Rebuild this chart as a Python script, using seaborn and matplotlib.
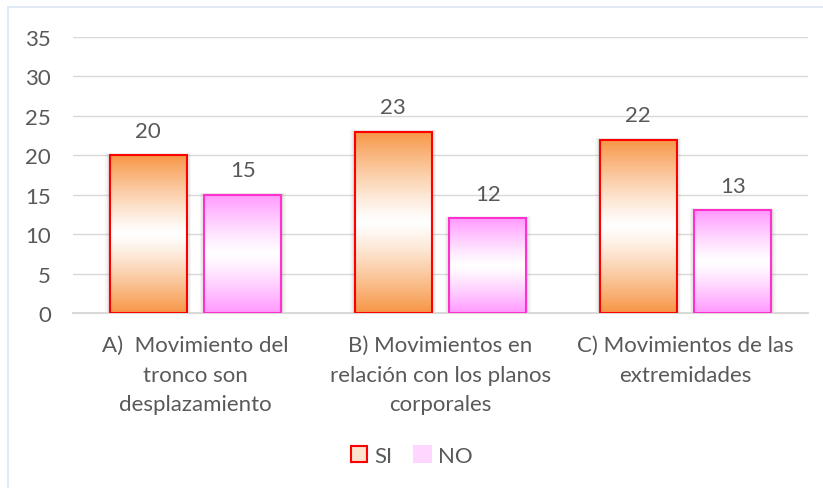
import numpy as np
import pandas as pd
import matplotlib
matplotlib.use("Agg")
import matplotlib.pyplot as plt
from matplotlib.colors import LinearSegmentedColormap
from matplotlib.patches import Rectangle, Patch
from matplotlib.lines import Line2D
import seaborn as sns

# ---- data ----
categorias = [
    "A)  Movimiento del\ntronco son\ndesplazamiento",
    "B) Movimientos en\nrelación con los planos\ncorporales",
    "C) Movimientos de las\nextremidades",
]
series = ["SI", "NO"]
valores_si = [20, 23, 22]
valores_no = [15, 12, 13]
yticks = [0, 5, 10, 15, 20, 25, 30, 35]

df = pd.DataFrame({
    "categoria": categorias * 2,
    "serie": ["SI"] * 3 + ["NO"] * 3,
    "valor": valores_si + valores_no,
})

# ---- style ----
sns.set_theme(style="white")
plt.rcParams["font.family"] = ["Lato", "DejaVu Sans"]
TXT = "#595959"
GRID = "#D9D9D9"
FS = 16
edge_col = {"SI": "#FF0000", "NO": "#FF33CC"}
grad_col = {"SI": "#F79646", "NO": "#FF99FF"}

fig = plt.figure(figsize=(8.23, 4.89), dpi=100)
ax = fig.add_axes([73 / 823, 1 - 314 / 489, (808 - 73) / 823, (314 - 38) / 489])

sns.barplot(data=df, x="categoria", y="valor", hue="serie", hue_order=series,
            palette=["white", "white"], width=0.77, gap=0.18, legend=False,
            saturation=1, ax=ax)

ax.set_yticks(yticks)
ax.yaxis.grid(True, color=GRID, lw=1)
ax.set_axisbelow(True)
for s in ["top", "right", "left"]:
    ax.spines[s].set_visible(False)
ax.spines["bottom"].set_color(GRID)
ax.spines["bottom"].set_linewidth(1.5)
ax.tick_params(axis="both", length=0, labelsize=FS, colors=TXT)
ax.tick_params(axis="y", pad=16)
ax.tick_params(axis="x", pad=16)
for lbl in ax.get_xticklabels():
    lbl.set_linespacing(1.6)
ax.set_xlabel("")
ax.set_ylabel("")

# gradient fill, shadow, value labels
grad = np.abs(np.linspace(-1, 1, 256)).reshape(-1, 1) ** 1.2
patches = list(ax.patches)
vals = valores_si + valores_no
names = ["SI"] * 3 + ["NO"] * 3
for p, v, name in zip(patches, vals, names):
    x0, w = p.get_x(), p.get_width()
    h = p.get_height()
    cmap = LinearSegmentedColormap.from_list(name, ["white", grad_col[name]])
    # soft shadow
    for k, a in [(0.018, 0.07), (0.012, 0.09), (0.006, 0.12)]:
        ax.add_patch(Rectangle((x0 - k, 0), w + 2 * k, h + k * 14, color="gray",
                               alpha=a, lw=0, zorder=1.5))
    im = ax.imshow(grad, cmap=cmap, aspect="auto", extent=[x0, x0 + w, 0, h],
                   zorder=2, vmin=0, vmax=1)
    im.set_clip_path(p)
    p.set_facecolor("none")
    p.set_edgecolor(edge_col[name])
    p.set_linewidth(1.5)
    p.set_zorder(3)
    ax.text(x0 + w / 2, h + 3.1, str(v), ha="center", va="center",
            fontsize=FS, color=TXT)
ax.set_xlim(-0.5, 2.5)
ax.set_ylim(0, 35)

# legend
handles = [Patch(facecolor="#FDE3CE", edgecolor=edge_col["SI"], lw=1.5),
           Patch(facecolor="#FFD6FF", edgecolor="#FFD6FF", lw=1.5)]
fig.legend(handles, series, loc="center", bbox_to_anchor=(0.5, 1 - 457 / 489),
           ncol=2, frameon=False, fontsize=FS, labelcolor=TXT,
           handlelength=0.75, handleheight=0.75, handletextpad=0.3,
           columnspacing=1.0)

# outer border
fig.add_artist(Line2D([8 / 823, 1], [1 - 8 / 489] * 2, color="#DCE6F2", lw=1.2,
                      transform=fig.transFigure))
fig.add_artist(Line2D([8 / 823] * 2, [0, 1 - 8 / 489], color="#DCE6F2", lw=1.2,
                      transform=fig.transFigure))

fig.savefig("out.png", dpi=100)
